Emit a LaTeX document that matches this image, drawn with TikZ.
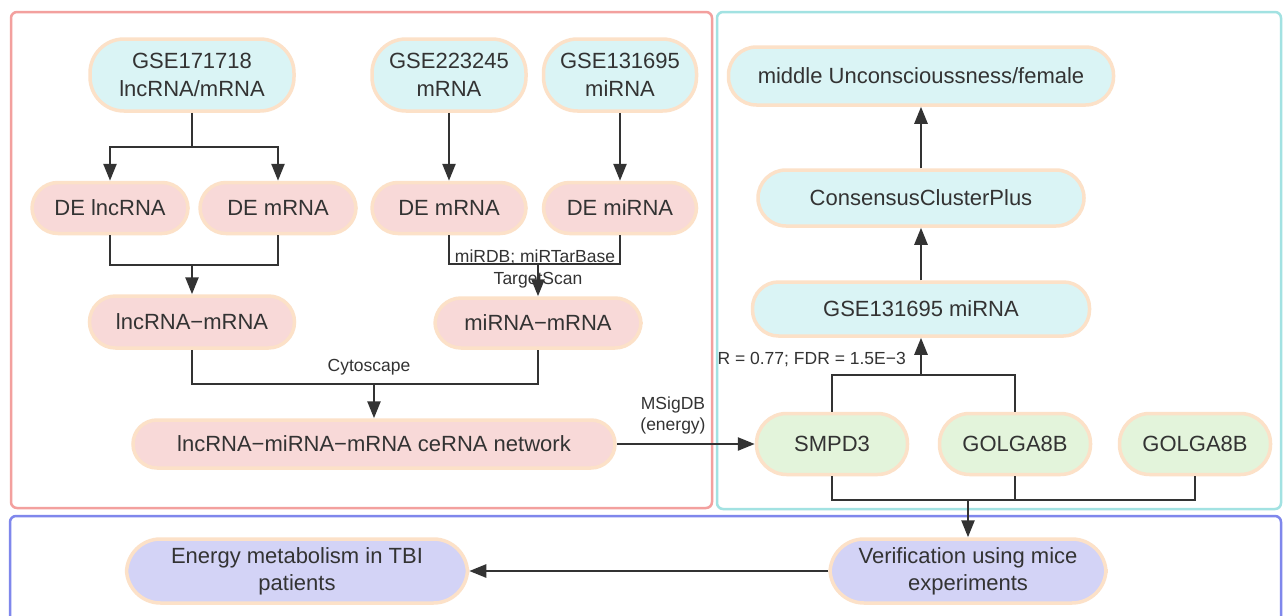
\documentclass[tikz,border=0pt]{standalone}
\usepackage{fontspec}
\setmainfont{Liberation Sans}
\usetikzlibrary{arrows.meta}
\definecolor{peach}{HTML}{FCE1C8}
\definecolor{cyanf}{HTML}{DAF4F5}
\definecolor{pinkf}{HTML}{F8D9D8}
\definecolor{greenf}{HTML}{E3F4DB}
\definecolor{lavf}{HTML}{D3D3F6}
\definecolor{txt}{HTML}{333333}
\definecolor{redfr}{HTML}{F3A09E}
\definecolor{cyanfr}{HTML}{A2E2E2}
\definecolor{bluefr}{HTML}{7F87EC}
\tikzset{
  box/.style={draw=peach, line width=3.5pt, rounded corners=26pt, align=center,
    text=txt, inner sep=0pt, font=\fontsize{22}{28}\selectfont},
  tall/.style={rounded corners=34pt},
  cbox/.style={box, fill=cyanf},
  pbox/.style={box, fill=pinkf},
  gbox/.style={box, fill=greenf},
  lbox/.style={box, fill=lavf},
  conn/.style={draw=txt, line width=2.5pt},
  arr/.style={conn, -{Triangle[length=17pt,width=13pt]}},
  lab/.style={text=txt, inner sep=0pt, align=center, font=\fontsize{17.5}{21}\selectfont},
  frame/.style={line width=2.5pt, rounded corners=6pt}
}
\begin{document}
\begin{tikzpicture}[x=1pt,y=-1pt]
\useasboundingbox (0,0) rectangle (1283,616);
\clip (0,0) rectangle (1283,616);
\fill[white] (0,0) rectangle (1283,616);
% frames
\draw[frame, draw=redfr] (11,12) rectangle (712,508);
\draw[frame, draw=cyanfr] (717,12) rectangle (1281,509);
\draw[frame, draw=bluefr] (10,516) rectangle (1281,650);
% left nodes
\node[cbox, tall, minimum width=204pt, minimum height=72pt] (g1) at (192,75) {GSE171718\\lncRNA/mRNA};
\node[cbox, tall, minimum width=154pt, minimum height=72pt] (g2) at (449,75) {GSE223245\\mRNA};
\node[cbox, tall, minimum width=153pt, minimum height=72pt] (g3) at (620,75) {GSE131695\\miRNA};
\node[pbox, minimum width=156pt, minimum height=51pt] (d1) at (110,208) {DE lncRNA};
\node[pbox, minimum width=156pt, minimum height=51pt] (d2) at (278,208) {DE mRNA};
\node[pbox, minimum width=154pt, minimum height=51pt] (d3) at (449,208) {DE mRNA};
\node[pbox, minimum width=153pt, minimum height=51pt] (d4) at (620,208) {DE miRNA};
\node[pbox, minimum width=205pt, minimum height=52pt] (lm) at (192,322) {lncRNA−mRNA};
\node[pbox, minimum width=206pt, minimum height=50pt] (mm) at (538,323) {miRNA−mRNA};
\node[pbox, rounded corners=24pt, minimum width=482pt, minimum height=48pt] (ce) at (374,444) {lncRNA−miRNA−mRNA ceRNA network};
% right nodes
\node[cbox, rounded corners=28pt, minimum width=385pt, minimum height=58pt] (mu) at (921,76) {middle Unconscioussness/female};
\node[cbox, rounded corners=28pt, minimum width=326pt, minimum height=56pt] (cc) at (921,198) {ConsensusClusterPlus};
\node[cbox, minimum width=337pt, minimum height=54pt] (gr) at (921,309) {GSE131695 miRNA};
\node[gbox, rounded corners=30pt, minimum width=151pt, minimum height=61pt] (sm) at (832,444) {SMPD3};
\node[gbox, rounded corners=30pt, minimum width=151pt, minimum height=61pt] (ga) at (1015,444) {GOLGA8B};
\node[gbox, rounded corners=30pt, minimum width=151pt, minimum height=61pt] (gb) at (1195,444) {GOLGA8B};
% bottom nodes
\node[lbox, tall, minimum width=276pt, minimum height=64pt, font=\fontsize{22}{27}\selectfont] (ve) at (968,571) {Verification using mice\\experiments};
\node[lbox, tall, minimum width=341pt, minimum height=64pt, font=\fontsize{22}{27}\selectfont] (en) at (297,571) {Energy metabolism in TBI\\patients};
% junctions
\coordinate (j1) at (192,147);
\coordinate (j2) at (192,265);
\coordinate (j3) at (538,264);
\coordinate (j4) at (374,384);
\coordinate (j5) at (921,375);
\coordinate (j6) at (968,500);
% left connectors
\draw[conn] (g1.south) -- (j1);
\draw[arr] (j1) -| (d1.north);
\draw[arr] (j1) -| (d2.north);
\draw[arr] (g2.south) -- (d3.north);
\draw[arr] (g3.south) -- (d4.north);
\draw[conn] (d1.south) -- (d1.south |- j2) -- (d2.south |- j2) -- (d2.south);
\draw[arr] (j2) -- (lm.north);
\draw[conn] (d3.south) -- (d3.south |- j3) -- (d4.south |- j3) -- (d4.south);
\draw[arr] (j3) -- (mm.north);
\node[lab] (l1) at (535,257) {miRDB; miRTarBase};
\node[lab] (l2) at (538,280) {TargetScan};
\draw[conn] (lm.south) -- (lm.south |- j4) -- (mm.south |- j4) -- (mm.south);
\draw[arr] (j4) -- (ce.north);
\node[lab] (l3) at (369,367) {Cytoscape};
\draw[arr] (ce.east) -- (sm.west);
\node[lab] (l4) at (673,415) {MSigDB\\(energy)};
% right connectors
\draw[conn] (sm.north) -- (sm.north |- j5) -- (ga.north |- j5) -- (ga.north);
\draw[arr] (j5) -- (gr.south);
\node[lab, anchor=east] (l5) at (906,360) {R = 0.77; FDR = 1.5E−3};
\draw[arr] (gr.north) -- (cc.south);
\draw[arr] (cc.north) -- (mu.south);
\draw[conn] (sm.south) -- (sm.south |- j6) -- (gb.south |- j6) -- (gb.south);
\draw[conn] (ga.south) -- (ga.south |- j6);
\draw[arr] (j6) -- (ve.north);
\draw[arr] (ve.west) -- (en.east);
\end{tikzpicture}
\end{document}
